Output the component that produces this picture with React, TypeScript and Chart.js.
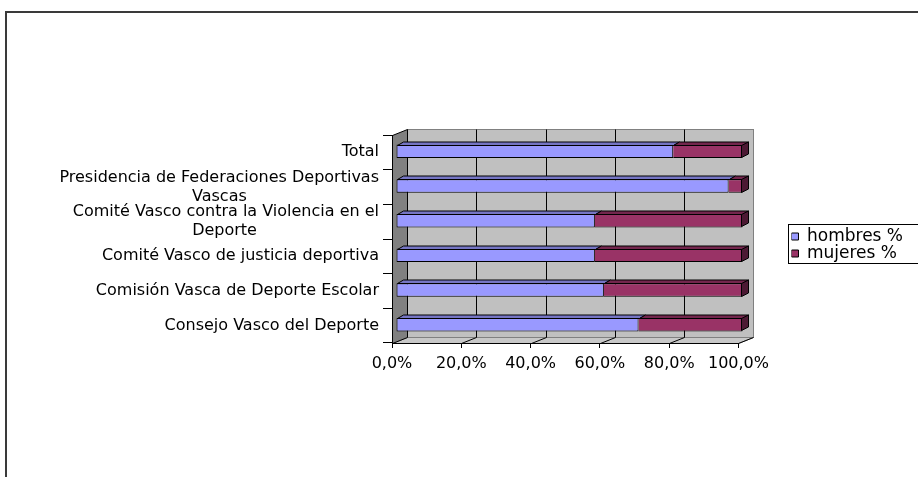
import React, { useEffect, useRef } from "react";
import { Chart, registerables } from "chart.js";

Chart.register(...registerables);

// ---- data ----
const categoryLines: string[][] = [
  ["Total"],
  ["Presidencia de Federaciones Deportivas", "Vascas"],
  ["Comité Vasco contra la Violencia en el", "Deporte"],
  ["Comité Vasco de justicia deportiva"],
  ["Comisión Vasca de Deporte Escolar"],
  ["Consejo Vasco del Deporte"],
];
const seriesNames = ["hombres %", "mujeres %"];
const hombres = [80, 96, 57.4, 57.4, 60, 70];
const mujeres = [20, 4, 42.6, 42.6, 40, 30];
const xTickValues = [0, 20, 40, 60, 80, 100];
const formatTick = (v: number) => v.toFixed(1).replace(".", ",") + "%";

// ---- style ----
const FONT_FAMILY = "'DejaVu Sans', sans-serif";
const LABEL_SIZE = 16;
const LEGEND_SIZE = 17;
const WALL_DX = 15;
const WALL_DY = -6;
const BAR_SHIFT_X = 4;
const BAR_SHIFT_Y = -1;
const BAR_DX = 6;
const BAR_DY = -3.5;
const TOP_COLORS = ["#7575C4", "#73264D"];
const SIDE_COLORS = ["#5C5C99", "#4C1933"];

function centerLines(lines: string[], size: number): string[] {
  if (lines.length < 2) return lines;
  const c = document.createElement("canvas").getContext("2d");
  if (!c) return lines;
  c.font = `normal normal ${size}px ${FONT_FAMILY}`;
  const widths = lines.map((l) => c.measureText(l).width);
  const maxW = Math.max(...widths);
  const sp = c.measureText(" ").width || 5;
  return lines.map(
    (l, i) => l + " ".repeat(Math.max(0, Math.round((maxW - widths[i]) / 2 / sp)))
  );
}

const wallPlugin = {
  id: "wall3d",
  beforeDraw(chart: any) {
    const { ctx, chartArea: a } = chart;
    const xs = chart.scales.x;
    const L = Math.round(a.left), R = Math.round(a.right);
    const T = Math.round(a.top), B = Math.round(a.bottom);
    ctx.save();
    ctx.lineWidth = 1;
    // back wall
    ctx.fillStyle = "#C0C0C0";
    ctx.fillRect(L + WALL_DX, T + WALL_DY, R - L, B - T);
    ctx.strokeStyle = "#808080";
    ctx.strokeRect(L + WALL_DX + 0.5, T + WALL_DY + 0.5, R - L, B - T);
    // floor
    ctx.beginPath();
    ctx.moveTo(L + 0.5, B + 0.5);
    ctx.lineTo(L + WALL_DX + 0.5, B + WALL_DY + 0.5);
    ctx.lineTo(R + WALL_DX + 0.5, B + WALL_DY + 0.5);
    ctx.lineTo(R + 0.5, B + 0.5);
    ctx.closePath();
    ctx.fillStyle = "#C8C8C8";
    ctx.fill();
    ctx.strokeStyle = "#808080";
    ctx.stroke();
    // gridlines on back wall and floor
    ctx.strokeStyle = "#000000";
    for (const t of xs.ticks) {
      const x = Math.round(xs.getPixelForValue(t.value));
      ctx.beginPath();
      if (t.value !== xs.min && t.value !== xs.max) {
        ctx.moveTo(x + WALL_DX + 0.5, T + WALL_DY + 0.5);
        ctx.lineTo(x + WALL_DX + 0.5, B + WALL_DY + 0.5);
      }
      if (t.value !== xs.min) {
        ctx.moveTo(x + 0.5, B + 0.5);
        ctx.lineTo(x + WALL_DX + 0.5, B + WALL_DY + 0.5);
      }
      ctx.stroke();
    }
    // side wall
    ctx.beginPath();
    ctx.moveTo(L + 0.5, T + 0.5);
    ctx.lineTo(L + WALL_DX + 0.5, T + WALL_DY + 0.5);
    ctx.lineTo(L + WALL_DX + 0.5, B + WALL_DY + 0.5);
    ctx.lineTo(L + 0.5, B + 0.5);
    ctx.closePath();
    ctx.fillStyle = "#808080";
    ctx.fill();
    ctx.strokeStyle = "#000000";
    ctx.stroke();
    ctx.restore();
  },
  beforeDatasetsDraw(chart: any) {
    chart.ctx.save();
    chart.ctx.translate(BAR_SHIFT_X, BAR_SHIFT_Y);
  },
  afterDatasetsDraw(chart: any) {
    const ctx = chart.ctx;
    ctx.lineWidth = 1;
    ctx.strokeStyle = "#000000";
    const metas = chart.getSortedVisibleDatasetMetas();
    metas.forEach((meta: any, di: number) => {
      meta.data.forEach((el: any) => {
        const p = el.getProps(["x", "y", "base", "height"], true);
        const left = Math.round(Math.min(p.base, p.x));
        const right = Math.round(Math.max(p.base, p.x));
        const top = Math.round(p.y - p.height / 2);
        const bottom = Math.round(p.y + p.height / 2);
        // top face
        ctx.beginPath();
        ctx.moveTo(left + 0.5, top + 0.5);
        ctx.lineTo(left + BAR_DX + 0.5, top + BAR_DY + 0.5);
        ctx.lineTo(right + BAR_DX + 0.5, top + BAR_DY + 0.5);
        ctx.lineTo(right + 0.5, top + 0.5);
        ctx.closePath();
        ctx.fillStyle = TOP_COLORS[di];
        ctx.fill();
        ctx.stroke();
        if (di === metas.length - 1) {
          ctx.beginPath();
          ctx.moveTo(right - 0.5, top + 0.5);
          ctx.lineTo(right + BAR_DX + 0.5, top + BAR_DY + 0.5);
          ctx.lineTo(right + BAR_DX + 0.5, bottom + BAR_DY - 0.5);
          ctx.lineTo(right - 0.5, bottom - 0.5);
          ctx.closePath();
          ctx.fillStyle = SIDE_COLORS[di];
          ctx.fill();
          ctx.stroke();
        }
      });
    });
    ctx.restore();
  },
  afterDraw(chart: any) {
    const lg = chart.legend;
    if (!lg || !lg.legendHitBoxes || !lg.legendHitBoxes.length) return;
    const hb = lg.legendHitBoxes;
    const first = hb[0];
    const last = hb[hb.length - 1];
    const ctx = chart.ctx;
    ctx.save();
    ctx.strokeStyle = "#000000";
    ctx.lineWidth = 1;
    const x0 = Math.round(first.left) - 3;
    const y0 = Math.round(first.top) - 4;
    const y1 = Math.round(last.top + last.height) + 1;
    ctx.strokeRect(x0 + 0.5, y0 + 0.5, chart.width + 50 - x0, y1 - y0);
    ctx.restore();
  },
};

export default function App() {
  const ref = useRef<HTMLCanvasElement | null>(null);

  useEffect(() => {
    if (!ref.current) return;
    const labels = categoryLines.map((l) => centerLines(l, LABEL_SIZE));
    const chart = new Chart(ref.current, {
      type: "bar",
      data: {
        labels,
        datasets: [
          {
            label: seriesNames[0],
            data: hombres,
            backgroundColor: "#9999FF",
            borderColor: "#000000",
            borderWidth: 1,
            borderSkipped: false,
            categoryPercentage: 1,
            barPercentage: 0.39,
            clip: false,
          } as any,
          {
            label: seriesNames[1],
            data: mujeres,
            backgroundColor: "#993366",
            borderColor: "#000000",
            borderWidth: 1,
            borderSkipped: "start",
            categoryPercentage: 1,
            barPercentage: 0.39,
            clip: false,
          } as any,
        ],
      },
      options: {
        indexAxis: "y",
        responsive: false,
        animation: false,
        devicePixelRatio: 1,
        events: [],
        layout: { padding: { left: 0, top: 120, right: 5, bottom: 107 } },
        plugins: {
          tooltip: { enabled: false },
          title: { display: false },
          legend: {
            display: true,
            position: "right",
            align: "center",
            labels: {
              color: "#000000",
              font: { family: FONT_FAMILY, size: LEGEND_SIZE },
              boxWidth: 7,
              boxHeight: 7,
              padding: 0,
            },
          },
        },
        scales: {
          x: {
            type: "linear",
            stacked: true,
            min: 0,
            max: 100,
            afterBuildTicks: (s: any) => {
              s.ticks = xTickValues.map((v) => ({ value: v }));
            },
            afterFit: (s: any) => {
              s.height = 27;
            },
            grid: {
              display: true,
              drawOnChartArea: false,
              drawTicks: true,
              tickLength: 5,
              color: "#000000",
            },
            border: { display: true, color: "#000000", width: 1 },
            ticks: {
              color: "#000000",
              padding: 6,
              maxRotation: 0,
              autoSkip: false,
              font: { family: FONT_FAMILY, size: LABEL_SIZE },
              callback: (v: any) => formatTick(Number(v)),
            },
          },
          x2: {
            type: "linear",
            position: "top",
            display: true,
            grid: { display: false, drawTicks: false },
            border: { display: false },
            ticks: { display: false },
            afterFit: (s: any) => {
              s.height = 15;
            },
          },
          y: {
            type: "category",
            stacked: true,
            afterFit: (s: any) => {
              s.width = 392;
            },
            grid: {
              display: true,
              offset: true,
              drawOnChartArea: false,
              drawTicks: true,
              tickLength: 9,
              color: "#000000",
            },
            border: { display: true, color: "#000000", width: 1 },
            ticks: {
              color: "#000000",
              padding: 4,
              autoSkip: false,
              font: { family: FONT_FAMILY, size: LABEL_SIZE, lineHeight: 1.2 },
            },
          },
          y2: {
            type: "linear",
            position: "right",
            display: true,
            grid: { display: false, drawTicks: false },
            border: { display: false },
            ticks: { display: false },
            afterFit: (s: any) => {
              s.width = 53;
            },
          },
        },
      } as any,
      plugins: [wallPlugin],
    });
    return () => chart.destroy();
  }, []);

  return (
    <div
      style={{
        position: "fixed",
        left: 0,
        top: 0,
        width: 918,
        height: 477,
        overflow: "hidden",
        background: "#ffffff",
      }}
    >
      <div
        style={{
          position: "absolute",
          left: 5,
          top: 11,
          width: 2000,
          height: 2000,
          borderLeft: "2px solid #3a3a3a",
          borderTop: "2px solid #3a3a3a",
        }}
      />
      <canvas
        ref={ref}
        width={918}
        height={477}
        style={{ position: "absolute", left: 0, top: 0, width: 918, height: 477 }}
      />
    </div>
  );
}
